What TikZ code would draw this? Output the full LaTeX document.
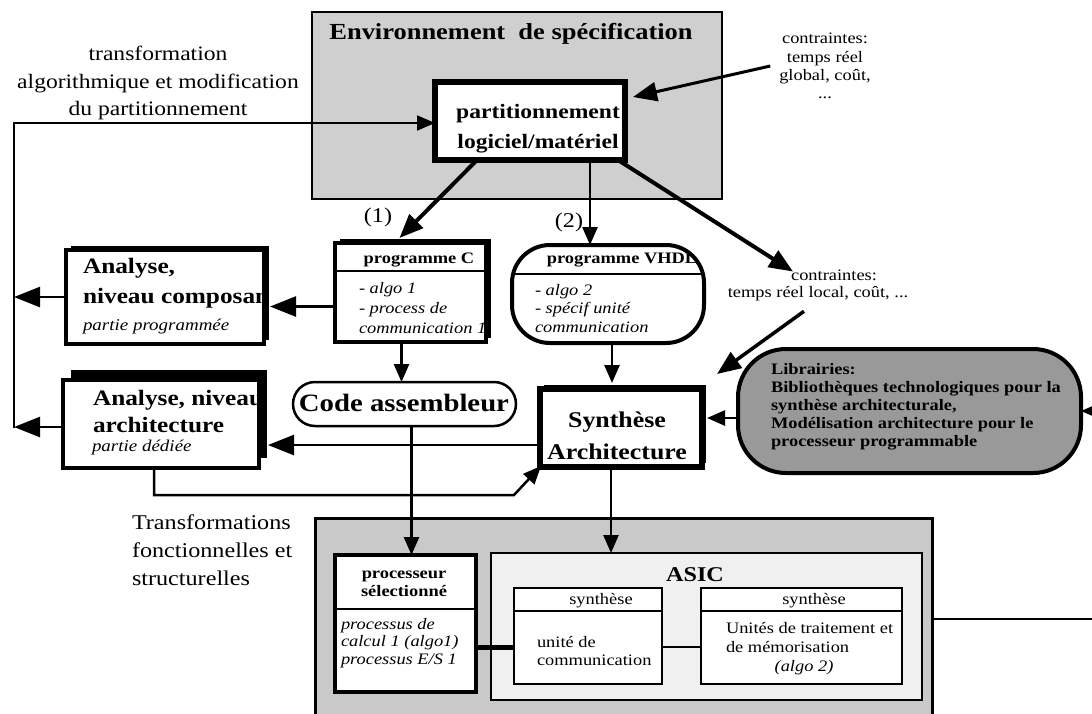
\documentclass[tikz,border=0pt]{standalone}
\usepackage{fontspec}
\setmainfont{Liberation Serif}[FakeStretch=1.15]
\usetikzlibrary{arrows.meta,fit,shadows}

\newcommand{\fsz}[2]{\fontsize{#1pt}{#2pt}\selectfont}

\begin{document}
\begin{tikzpicture}[x=1pt,y=-1pt,
  every node/.style={inner sep=0pt,outer sep=0pt},
  plainbox/.style={draw,fill=white,line width=#1},
  plainbox/.default=3pt,
  hshadow/.style 2 args={general shadow={fill=black,shadow xshift=#1,shadow yshift=#2}},
  conn/.style={line width=2.5pt,-{Triangle[length=18pt,width=15pt]}},
  bigconn/.style={line width=2.5pt,-{Triangle[length=26pt,width=20pt]}},
  heavyconn/.style={line width=4pt,-{Triangle[length=24pt,width=19pt]}},
  ftitle/.style={font=\bfseries\fsz{23}{28}},
  fbig/.style={font=\bfseries\fsz{22}{30}},
  fmid/.style={font=\fsz{20.5}{27.5}},
  fsmall/.style={font=\fsz{16}{18.5}},
  fsmallb/.style={font=\bfseries\fsz{16}{18}},
]
\fill[white] (0,0) rectangle (1092,713);
\useasboundingbox (0,0) rectangle (1092,713);

% ---------- boxes ----------
\node[draw,line width=1.6pt,fill=black!19,fit={(312,12) (722,199)}] (env) {};
\node[plainbox=6pt,fit={(435,82) (625,160)}] (part) {};
\node[plainbox=4pt,hshadow={4.5pt}{4.5pt},fit={(66,250) (264,344)}] (anacomp) {};
\node[plainbox=4pt,hshadow={4.5pt}{4.5pt},fit={(335,243) (486,342)}] (progC) {};
\node[plainbox=4pt,rounded corners=38pt,fit={(512,245) (704,343)}] (vhdl) {};
\node[plainbox=4.5pt,hshadow={8pt}{10pt},fit={(63,380) (259,468)}] (anaarch) {};
\node[plainbox=2.5pt,rounded corners=22pt,fit={(293,382) (516,426)}] (code) {};
\node[plainbox=5.5pt,hshadow={4pt}{4pt},fit={(540,389) (702,467)}] (synth) {};
\node[draw,line width=4pt,fill=black!40,rounded corners=48pt,fit={(738,349) (1081,473)}] (lib) {};
\node[draw,line width=3pt,fill=black!21,fit={(315,518) (932,720)}] (target) {};
\node[draw,line width=2.5pt,fill=black!6,fit={(491,553) (922,700)}] (asic) {};
\node[plainbox=3.5pt,fit={(335,555) (476,692)}] (proc) {};
\node[plainbox=2pt,fit={(514,588) (662,684)}] (ucom) {};
\node[plainbox=2pt,fit={(701,588) (902,684)}] (utrt) {};

% header separators
\draw[line width=2.5pt] ([yshift=-28pt]progC.north west) -- ([yshift=-28pt]progC.north east);
\draw[line width=2.5pt] ([xshift=2pt,yshift=-29pt]vhdl.north west) -- ([xshift=-2pt,yshift=-29pt]vhdl.north east);
\draw[line width=2pt] ([yshift=-54pt]proc.north west) -- ([yshift=-54pt]proc.north east);
\draw[line width=2pt] ([yshift=-23pt]ucom.north west) -- ([yshift=-23pt]ucom.north east);
\draw[line width=2pt] ([yshift=-23pt]utrt.north west) -- ([yshift=-23pt]utrt.north east);

% ---------- texts ----------
\node[ftitle] (envTitle) at (511,34) {Environnement~ de spécification};
\node[align=center,font=\bfseries\fsz{20.5}{30}] (partTxt) at (538,129) {partitionnement\\logiciel/matériel};
\node[fmid,align=center] (loopTxt) at (158,83) {transformation\\algorithmique et modification\\du partitionnement};
\node[align=center,font=\fsz{16}{18.3}] (ctop) at (825,66) {contraintes:\\temps réel\\global, coût,\\...};
\node[font=\fsz{21}{25}] (lbl1) at (378,217) {(1)};
\node[font=\fsz{21}{25}] (lbl2) at (569,222) {(2)};
\node[fsmall] (cmidA) at (834,275) {contraintes:};
\node[fsmall] (cmidB) at (818,294) {temps réel local, coût, ...};

\node[fsmallb] (progCHead) at (419,260) {programme C};
\node[align=left,anchor=west,font=\itshape\fsz{16}{20}] (progCItems) at (359,308) {- algo 1\\- process de\\communication 1};

\begin{scope}
  \clip[rounded corners=38pt] (vhdl.south west) rectangle (vhdl.north east);
  \node[fsmallb] (vhdlHead) at (622,260) {programme VHDL};
\end{scope}
\node[align=left,anchor=west,font=\itshape\fsz{16}{18.5}] (vhdlItems) at (535,308.5) {- algo 2\\- spécif unité\\communication};

\begin{scope}
  \clip (anacomp.south west) rectangle (anacomp.north east);
  \node[fbig,anchor=west] (anacompA) at (83,268) {Analyse,};
  \node[fbig,anchor=west] (anacompB) at (83,298) {niveau composant};
  \node[anchor=west,font=\itshape\fsz{16.5}{20}] (anacompC) at (83,327) {partie programmée};
\end{scope}

\begin{scope}
  \clip (anaarch.south west) rectangle (anaarch.north east);
  \node[fbig,anchor=west] (anaarchA) at (93,400) {Analyse, niveau};
\end{scope}
\node[fbig,anchor=west] (anaarchB) at (93,425) {architecture};
\node[anchor=west,font=\itshape\fsz{16.5}{20}] (anaarchC) at (92,448) {partie dédiée};

\node[font=\bfseries\fsz{25}{30}] (codeTxt) at (404,403) {Code assembleur};
\node[align=center,font=\bfseries\fsz{22.5}{32}] (synthTxt) at (617,436) {Synthèse\\Architecture};
\node[align=left,anchor=west,font=\bfseries\fsz{16}{18}] (libTxt) at (771,407) {Librairies:\\Bibliothèques technologiques pour la\\synthèse architecturale,\\Modélisation architecture pour le\\processeur programmable};
\node[align=left,anchor=west,font=\fsz{21}{28}] (trTxt) at (132,550) {Transformations\\fonctionnelles et\\structurelles};

\node[font=\bfseries\fsz{21}{25}] (asicTxt) at (695,575) {ASIC};
\node[align=center,font=\bfseries\fsz{16}{18}] (procHead) at (404,584) {processeur\\sélectionné};
\node[align=left,anchor=west,font=\itshape\fsz{16}{17.5}] (procItems) at (341,643) {processus de\\calcul 1 (algo1)\\processus E/S 1};
\node[fsmall] (ucomHead) at (601,601) {synthèse};
\node[align=left,anchor=west,font=\fsz{16}{18}] (ucomTxt) at (537,651) {unité de\\communication};
\node[fsmall] (utrtHead) at (814,601) {synthèse};
\node[align=left,anchor=west,font=\fsz{16}{19}] (utrtTxt) at (726,637.5) {Unités de traitement et\\de mémorisation};
\node[font=\itshape\fsz{16}{19}] (utrtAlgo) at (804,668) {(algo 2)};

% ---------- connectors ----------
\coordinate (loopTop) at (14,123);
\coordinate (loopBot) at (14,428);
\draw[conn,line width=2pt] (loopBot) -- (loopTop) -- (loopTop -| part.west);
\draw[bigconn] (anacomp.west) -- (anacomp.west -| loopBot);
\draw[bigconn] ([yshift=-3pt]anaarch.west) -- ([yshift=-3pt]anaarch.west -| loopBot);

\draw[heavyconn,line width=3pt] ([xshift=-9pt]ctop.west) -- ([xshift=8pt,yshift=24pt]part.east);
\draw[heavyconn] ([xshift=-53pt]part.south) -- ([xshift=-11pt,yshift=5pt]progC.north);
\draw[conn] ([xshift=60pt]part.south) -- ([xshift=60pt]part.south |- vhdl.north);
\draw[heavyconn] ([xshift=88pt]part.south) -- ([xshift=2pt,yshift=-2pt]cmidA.north west);
\draw[heavyconn,line width=3.5pt] ([xshift=-14pt,yshift=-10pt]cmidB.south) -- ([xshift=15pt,yshift=15pt]synth.north east);

\draw[bigconn] ([yshift=-14pt]progC.west) -- ([xshift=6pt,yshift=-14pt]progC.west -| anacomp.east);
\draw[conn] ([xshift=-9pt]progC.south) -- ([xshift=-9pt]progC.south |- code.north);
\draw[conn] ([xshift=4pt]vhdl.south) -- ([xshift=4pt,yshift=6pt]vhdl.south |- synth.north);

\draw[conn] ([yshift=-7pt]lib.west) -- ([xshift=5pt,yshift=-7pt]lib.west -| synth.east);
\coordinate (libIn) at (1112,411);
\draw[conn] (libIn) -- (lib.east);

\draw[bigconn] ([yshift=-17pt]synth.west) -- ([xshift=9pt,yshift=-17pt]synth.west -| anaarch.east);
\coordinate (bl) at (514,495);
\draw[conn] ([xshift=-7pt]anaarch.south) |- (bl) -- ([xshift=1pt,yshift=1pt]synth.south west);

\draw[conn] ([xshift=-10pt]synth.south) -- ([xshift=-10pt]synth.south |- asic.north);
\draw[conn] ([xshift=7pt]code.south) -- ([xshift=7pt]code.south |- proc.north);
\draw[line width=5pt] ([yshift=-24pt]proc.east) -- ([yshift=-24pt]proc.east -| ucom.west);
\draw[line width=1.5pt] ([yshift=-11pt]ucom.east) -- ([yshift=-11pt]ucom.east -| utrt.west);
\coordinate (rOut) at (1100,619);
\draw[line width=2pt] (target.east |- rOut) -- (rOut);
\end{tikzpicture}
\end{document}
